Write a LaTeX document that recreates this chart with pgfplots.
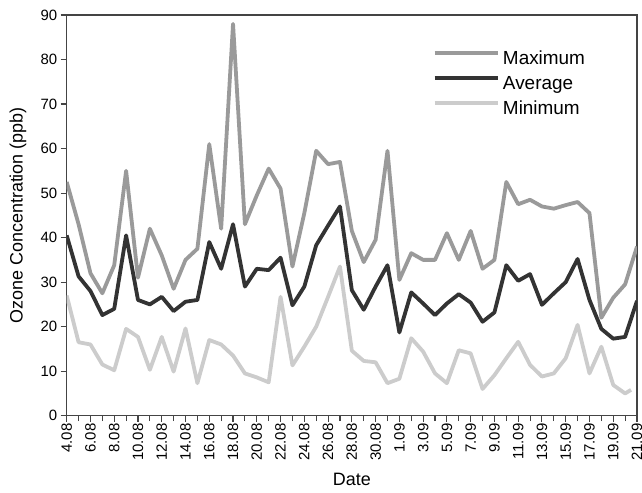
\documentclass[border=0pt]{standalone}
\usepackage{pgfplots}
\usepackage{pgfplotstable}
\pgfplotsset{compat=1.18}
\usepackage{fontspec}
\setmainfont{Liberation Sans}
\definecolor{cmax}{HTML}{9A9A9A}
\definecolor{cavg}{HTML}{333333}
\definecolor{cmin}{HTML}{CCCCCC}
\definecolor{caxis}{HTML}{444444}

\pgfplotstableread{
d max
0 52.5
1 43
2 32
3 27.5
4 33.8
5 55
6 31
7 42
8 36
9 28.5
10 35
11 37.5
12 61
13 42
14 88
15 43
16 49.5
17 55.5
18 51
19 33.5
20 45.5
21 59.5
22 56.5
23 57
24 41.5
25 34.5
26 39.5
27 59.5
28 30.5
29 36.5
30 35
31 35
32 41
33 35
34 41.5
35 33
36 35
37 52.5
38 47.5
39 48.5
40 47
41 46.5
42 47.3
43 48
44 45.5
45 22
46 26.5
47 29.5
48 38
}\tmax

\pgfplotstableread{
d avg
0 40.5
1 31.3
2 28
3 22.6
4 24
5 40.5
6 26
7 25
8 26.7
9 23.5
10 25.6
11 26
12 39
13 33
14 43
15 29
16 33
17 32.7
18 35.5
19 24.8
20 29
21 38.3
22 42.7
23 47
24 28.2
25 23.8
26 29
27 33.8
28 18.7
29 27.7
30 25.2
31 22.6
32 25.2
33 27.3
34 25.4
35 21.1
36 23.2
37 33.8
38 30.3
39 31.8
40 24.9
41 27.5
42 30
43 35.2
44 26
45 19.5
46 17.3
47 17.7
48 25.8
}\tavg

\pgfplotstableread{
d min
0 27
1 16.5
2 16
3 11.5
4 10.2
5 19.5
6 17.7
7 10.3
8 17.7
9 9.9
10 19.6
11 7.3
12 17
13 16
14 13.5
15 9.5
16 8.6
17 7.5
18 26.7
19 11.3
20 15.5
21 20
22 26.7
23 33.5
24 14.6
25 12.3
26 12
27 7.3
28 8.3
29 17.4
30 14.4
31 9.5
32 7.3
33 14.7
34 14
35 6
36 9.1
37 12.9
38 16.6
39 11.4
40 8.8
41 9.5
42 12.9
43 20.4
44 9.5
45 15.5
46 6.9
47 5
47.5 5.8
}\tmin

\begin{document}
\begin{tikzpicture}
\path[use as bounding box] (-66.7bp,-77.3bp) rectangle (575.3bp,415.7bp);
\begin{axis}[
  at={(0,0)}, anchor=south west,
  scale only axis, width=570.3bp, height=400.7bp,
  xmin=0, xmax=48, ymin=0, ymax=90,
  axis line style={caxis, line width=1.3bp},
  tick style={caxis, line width=1.1bp},
  tick align=outside, tick pos=left,
  major tick length=6bp, minor tick length=5.5bp,
  xtick={0,2,...,48},
  xticklabels={4.08,6.08,8.08,10.08,12.08,14.08,16.08,18.08,20.08,22.08,24.08,26.08,28.08,30.08,1.09,3.09,5.09,7.09,9.09,11.09,13.09,15.09,17.09,19.09,21.09},
  minor x tick num=1,
  ytick={0,10,...,90},
  xticklabel style={rotate=90, anchor=east, font=\fontsize{15}{18}\selectfont, inner sep=1.5bp},
  yticklabel style={font=\fontsize{15}{18}\selectfont},
  /pgf/number format/assume math mode=true,
  xlabel={Date}, ylabel={Ozone Concentration (ppb)},
  every axis x label/.style={at={(axis description cs:0.5,-0.1597)}, anchor=center, font=\fontsize{18}{21}\selectfont},
  every axis y label/.style={at={(axis description cs:-0.0854,0.5)}, anchor=center, rotate=90, font=\fontsize{18}{21}\selectfont},
  legend style={at={(axis description cs:0.6414,0.9127)}, anchor=north west, draw=none, fill=none, inner sep=0pt, row sep=7bp,
    font=\fontsize{19}{22}\selectfont,
    nodes={inner xsep=3.5bp, inner ysep=0pt, text height=14bp, text depth=4bp}},
  legend cell align=left,
  legend image code/.code={\draw[#1] (0bp,6.5bp) -- (63bp,6.5bp);},
  every axis plot/.append style={line width=3.8bp, line join=round, no markers},
]
\addplot[cmax] table[x=d,y=max] {\tmax};
\addplot[cavg] table[x=d,y=avg] {\tavg};
\addplot[cmin] table[x=d,y=min] {\tmin};
\legend{Maximum,Average,Minimum}
\end{axis}
\end{tikzpicture}
\end{document}
